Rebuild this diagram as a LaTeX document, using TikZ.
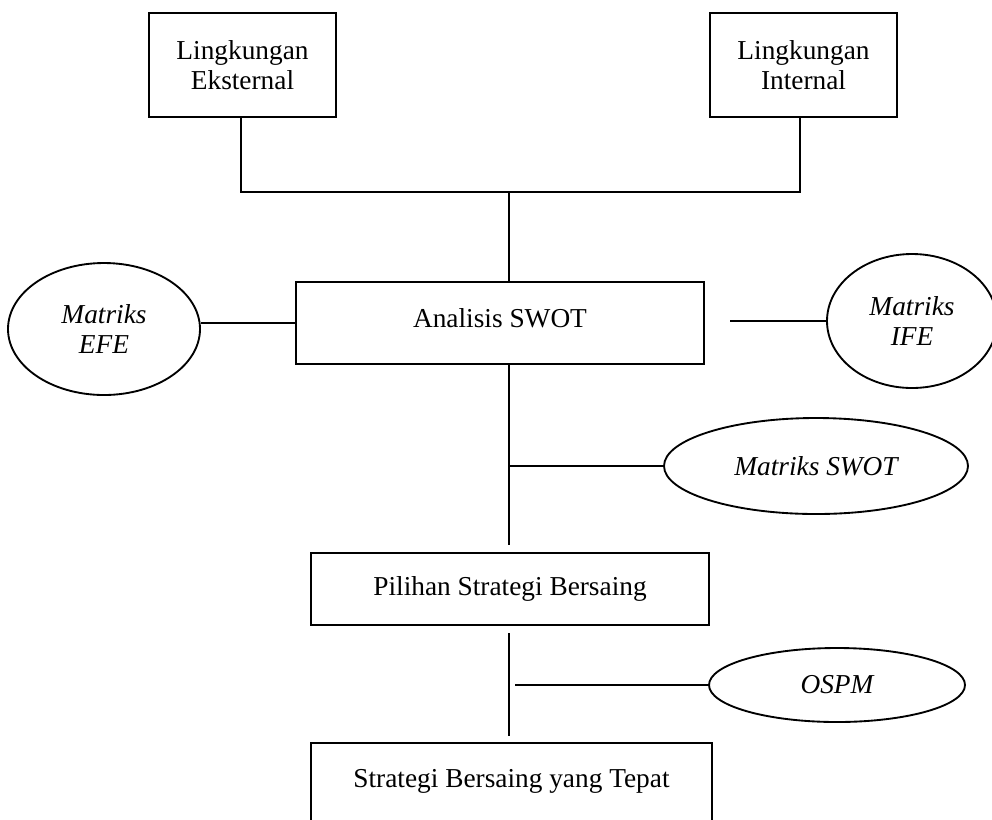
\documentclass[tikz,border=0pt]{standalone}
\usepackage{fontspec}
\setmainfont{Liberation Serif}
\usetikzlibrary{shapes.geometric}
\tikzset{
  box/.style={draw, rectangle, align=center, inner sep=0pt,
    font=\fontsize{20.5}{22.5}\selectfont},
  oval/.style={draw, ellipse, align=center, inner sep=0pt,
    font=\fontsize{20.5}{22.5}\selectfont\itshape},
  wire/.style={line width=1.4pt},
}

\begin{document}
\begin{tikzpicture}[x=0.75pt, y=-0.75pt, line width=1.4pt]
\clip (0,0) rectangle (992,819);

% ---- environment boxes ----
\node[box, minimum width=140.25pt, minimum height=78pt] (ext) at (242.5,65) {Lingkungan\\Eksternal};
\node[box, minimum width=140.25pt, minimum height=78pt] (int) at (803.5,65) {Lingkungan\\Internal};
\coordinate (el) at (241,192);
\coordinate (ir) at (800,192);
\coordinate (jn) at (509,192);
\draw[wire] (el |- ext.south) -- (el) -- (ir) -- (ir |- int.south);

% ---- SWOT analysis ----
\node[box, minimum width=306pt, minimum height=61.5pt] (swot) at (500,323) {Analisis SWOT\\[-15pt]~};
\draw[wire] (jn) -- (jn |- swot.north);
\node[oval, minimum width=144pt, minimum height=99pt] (efe) at (104,329) {Matriks\\EFE};
\node[oval, minimum width=127.5pt, minimum height=100.5pt] (ife) at (912,321) {Matriks\\IFE};
\draw[wire] (swot.west) -- (swot.west -| efe.east);
\coordinate (ifel) at (730,321);
\draw[wire] (ifel) -- (ife.west);

% ---- SWOT matrix ----
\coordinate (sb) at (509,545);
\draw[wire] (swot.south -| sb) -- (sb);
\node[oval, minimum width=228pt, minimum height=72pt] (mswot) at (816,466) {Matriks SWOT};
\coordinate (br1) at (509,466);
\draw[wire] (br1) -- (mswot.west);

% ---- strategy choice ----
\node[box, minimum width=298.5pt, minimum height=54pt] (pilih) at (510,589) {Pilihan Strategi Bersaing};
\coordinate (pt1) at (509,633);
\coordinate (pt2) at (509,736);
\draw[wire] (pt1) -- (pt2);
\node[oval, minimum width=192pt, minimum height=55.5pt] (ospm) at (837,685) {OSPM};
\coordinate (br2) at (515,685);
\draw[wire] (br2) -- (ospm.west);

% ---- result ----
\node[box, minimum width=300.75pt, minimum height=75pt] (tepat) at (511.5,793) {Strategi Bersaing yang Tepat\\~};

\end{tikzpicture}
\end{document}
